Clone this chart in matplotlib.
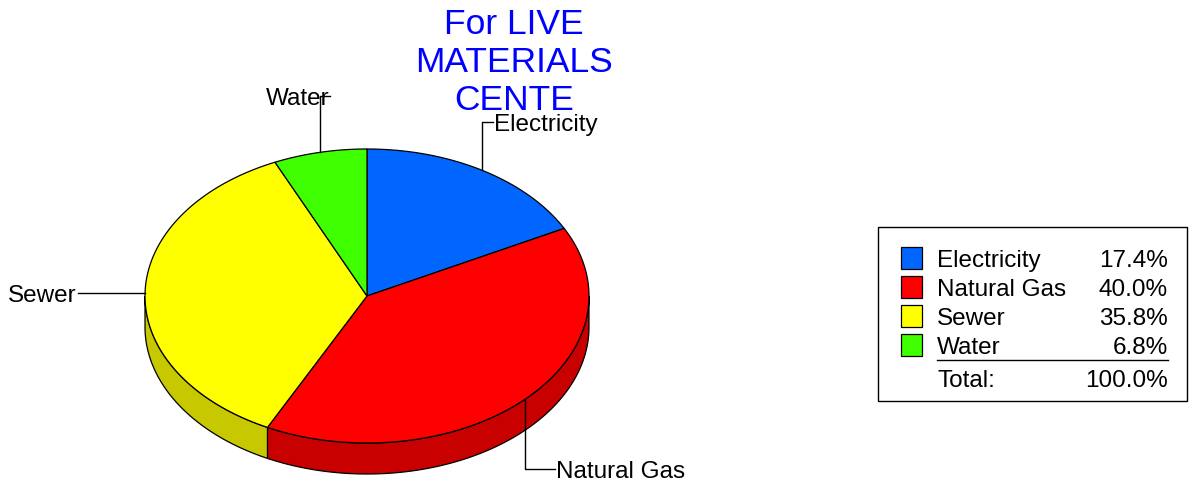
import numpy as np
import matplotlib.pyplot as plt
from matplotlib.patches import Polygon, Rectangle

plt.rcParams['font.family'] = ['Liberation Sans', 'DejaVu Sans']

categories = ["Electricity", "Natural Gas", "Sewer", "Water"]
shares = [17.4, 40.0, 35.8, 6.8]
total_label = "100.0%"
title_lines = ["For LIVE", "MATERIALS", "CENTE"]

top_colors = ["#0066FF", "#FF0000", "#FFFF00", "#40FF00"]
side_colors = ["#0050C8", "#C80000", "#C8C800", "#32C800"]

W, H = 1204, 485
fig = plt.figure(figsize=(W / 100, H / 100), dpi=100)
ax = fig.add_axes([0, 0, 1, 1])
ax.set_xlim(0, W)
ax.set_ylim(H, 0)
ax.axis("off")

# pie geometry in pixel units
cx, cy = 367, 297
rx, ry = 222, 147
depth = 31


def rim(a0, a1, n=120):
    t = np.radians(np.linspace(a0, a1, n))
    return cx + rx * np.cos(t), cy - ry * np.sin(t)


# wedge angles, clockwise from 12 o'clock
fracs = np.array(shares) / sum(shares)
ends = 90 - 360 * np.cumsum(fracs)
starts = np.concatenate([[90], ends[:-1]])

# side walls (front half only: angles between -180 and 0)
for a0, a1, sc in zip(starts, ends, side_colors):
    for shift in (0, -360):
        l, h = max(min(a0, a1) + shift, -180), min(max(a0, a1) + shift, 0)
        if h <= l:
            continue
        xs, ys = rim(l, h)
        pts = np.column_stack([np.concatenate([xs, xs[::-1]]),
                               np.concatenate([ys, ys[::-1] + depth])])
        ax.add_patch(Polygon(pts, closed=True, facecolor=sc,
                             edgecolor="black", lw=0.9, zorder=1))

# top faces
for a0, a1, tc in zip(starts, ends, top_colors):
    xs, ys = rim(a0, a1)
    pts = np.column_stack([np.concatenate([[cx], xs]),
                           np.concatenate([[cy], ys])])
    ax.add_patch(Polygon(pts, closed=True, facecolor=tc,
                         edgecolor="black", lw=0.9, zorder=2))

# leader lines and labels
mids = (starts + ends) / 2
lab_fs = 17.5
dy = 2  # nudge text down so the caps sit on the leader line
for name, m in zip(categories, mids):
    t = np.radians(m)
    px, py = cx + rx * np.cos(t), cy - ry * np.sin(t)
    if name == "Electricity":
        ax.plot([px, px, px + 11], [py, 123, 123], color="black", lw=1, zorder=3)
        ax.text(px + 12, 123 + dy, name, fontsize=lab_fs, ha="left", va="center", zorder=4)
    elif name == "Natural Gas":
        ax.plot([px, px, px + 30], [py, 470, 470], color="black", lw=1, zorder=3)
        ax.text(px + 31, 470 + dy, name, fontsize=lab_fs, ha="left", va="center", zorder=4)
    elif name == "Sewer":
        ax.plot([px, 78], [py, py], color="black", lw=1, zorder=3)
        ax.text(77, py + dy, name, fontsize=lab_fs, ha="right", va="center", zorder=4)
    else:
        ax.plot([px, px, px + 10], [py, 97, 97], color="black", lw=1, zorder=3)
        ax.text(px - 22, 97 + dy, name, fontsize=lab_fs, ha="center", va="center", zorder=4)

# title
for i, line in enumerate(title_lines):
    ax.text(514, 24 + 38.5 * i, line, fontsize=25.5, color="#0000FF",
            ha="center", va="center", zorder=5)

# legend box
ax.add_patch(Rectangle((878, 228), 309, 174, facecolor="white",
                       edgecolor="black", lw=1, zorder=5))
for i, (name, s, tc) in enumerate(zip(categories, shares, top_colors)):
    y = 259 + 29 * i
    ax.add_patch(Rectangle((901, y - 11), 21, 22, facecolor=tc,
                           edgecolor="black", lw=0.9, zorder=6))
    ax.text(937, y + dy, name, fontsize=lab_fs, ha="left", va="center", zorder=6)
    ax.text(1168, y + dy, f"{s:.1f}%", fontsize=lab_fs, ha="right", va="center", zorder=6)
ax.plot([937, 1168], [361, 361], color="black", lw=1, zorder=6)
ax.text(937, 379 + dy, "Total:", fontsize=lab_fs, ha="left", va="center", zorder=6)
ax.text(1168, 379 + dy, total_label, fontsize=lab_fs, ha="right", va="center", zorder=6)

fig.savefig("out.png", dpi=100)
